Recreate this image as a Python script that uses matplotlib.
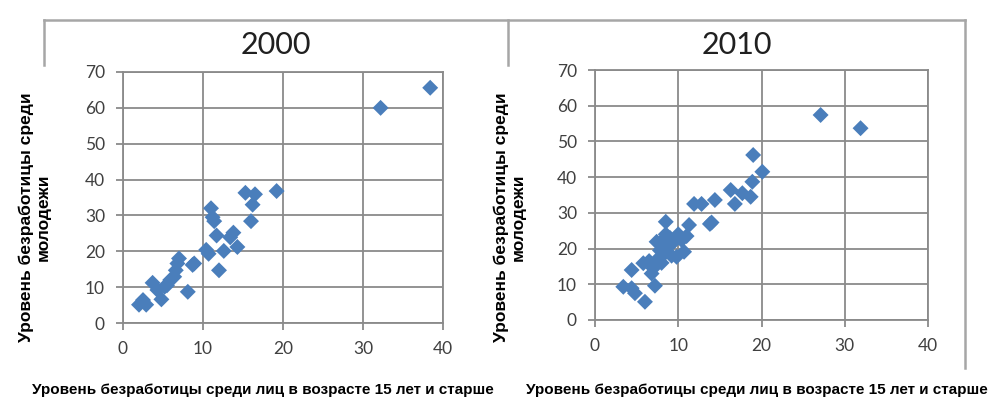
import matplotlib
matplotlib.use("Agg")
import matplotlib.pyplot as plt
from matplotlib.lines import Line2D

# ---- data ----
x2000 = [2.0, 2.5, 2.9, 3.7, 4.3, 4.8, 5.2, 5.5, 5.9, 6.4, 6.6, 6.8, 7.0, 8.1, 8.7, 8.9,
         10.4, 10.7, 11.0, 11.2, 11.4, 11.7, 12.0, 12.6, 13.4, 13.8, 14.3, 15.3, 16.0,
         16.2, 16.5, 19.2, 32.2, 38.4]
y2000 = [5.1, 6.4, 5.1, 11.2, 9.2, 6.6, 10.1, 10.5, 12.0, 12.9, 14.7, 16.6, 18.0, 8.7, 16.2, 16.6,
         20.4, 19.3, 32.0, 29.5, 28.4, 24.4, 14.7, 20.1, 23.9, 25.2, 21.2, 36.3, 28.4,
         33.0, 35.9, 36.8, 60.0, 65.6]

x2010 = [3.4, 4.4, 4.4, 4.8, 5.8, 6.0, 6.5, 6.8, 7.0, 7.2, 7.4, 7.5, 7.8, 8.0, 8.0, 8.3,
         8.5, 8.5, 8.8, 9.0, 9.2, 9.5, 9.8, 10.0, 10.4, 10.7, 11.0, 11.3, 11.9, 12.8,
         13.8, 14.0, 14.4, 16.3, 16.8, 17.7, 18.7, 18.9, 19.0, 20.1, 27.1, 31.9]
y2010 = [9.3, 14.0, 8.9, 7.5, 15.9, 5.1, 16.5, 13.0, 14.5, 9.6, 21.9, 17.0, 19.5, 22.0, 16.0, 18.5,
         27.5, 24.0, 20.5, 23.0, 18.0, 22.0, 17.7, 24.0, 22.4, 19.1, 23.5, 26.6, 32.5, 32.5,
         26.9, 27.3, 33.6, 36.4, 32.5, 35.5, 34.5, 38.7, 46.2, 41.5, 57.4, 53.7]

titles = ["2000", "2010"]
xticks = [0, 10, 20, 30, 40]
yticks = [0, 10, 20, 30, 40, 50, 60, 70]
ylabel = "Уровень безработицы среди\nмолодежи"
xlabel = "Уровень безработицы среди лиц в возрасте 15 лет и старше"

W, H = 998, 403
fig = plt.figure(figsize=(W / 100, H / 100), dpi=100)

def fx(px):
    return px / W

def fy(py):
    return 1 - py / H

tick_font = ["Lato", "DejaVu Sans"]
lab_font = ["Liberation Sans", "DejaVu Sans"]
grid_c = "#8a8a8a"
frame_c = "#a6a6a6"
mark_c = "#4a7ebb"

panels = [
    dict(x=x2000, y=y2000, title=titles[0], ax=(123, 72, 443, 323),
         tx=276, ylx=(22, 47), xlx=263),
    dict(x=x2010, y=y2010, title=titles[1], ax=(595, 70, 928, 320),
         tx=737, ylx=(496, 523), xlx=757),
]

for p in panels:
    x0, y0, x1, y1 = p["ax"]
    ax = fig.add_axes([fx(x0), fy(y1), fx(x1 - x0), (y1 - y0) / H])
    ax.set_xlim(0, 40)
    ax.set_ylim(0, 70)
    ax.set_xticks(xticks)
    ax.set_yticks(yticks)
    ax.grid(True, color=grid_c, lw=1.3)
    ax.set_axisbelow(True)
    for s in ax.spines.values():
        s.set_color(grid_c)
        s.set_linewidth(1.3)
    ax.tick_params(direction="out", length=5, width=1.3, color=grid_c,
                   labelsize=12.5, labelcolor="#404040", pad=8)
    for lab in ax.get_xticklabels() + ax.get_yticklabels():
        lab.set_family(tick_font)
    ax.scatter(p["x"], p["y"], marker="D", s=66, color=mark_c, edgecolors="none",
               zorder=3, clip_on=False)
    # title
    fig.text(fx(p["tx"]), fy(45), p["title"], ha="center", va="center",
             fontsize=22, family=tick_font, color="#202020")
    # y label
    fig.text(fx((p["ylx"][0] + p["ylx"][1]) / 2), fy(217), ylabel, rotation=90,
             ha="center", va="center", fontsize=12.5, fontweight="bold",
             family=lab_font, color="#000000", multialignment="center",
             linespacing=1.15)
    # x label
    fig.text(fx(p["xlx"]), fy(390), xlabel, ha="center", va="center",
             fontsize=11, fontweight="bold", family=lab_font, color="#000000")

# outer frame lines of the chart areas
lines = [
    ((44, 965), (20, 20)),
    ((44, 44), (20, 65)),
    ((508, 508), (20, 65)),
    ((965, 965), (20, 368)),
]
for xs, ys in lines:
    fig.add_artist(Line2D([fx(v) for v in xs], [fy(v) for v in ys],
                          transform=fig.transFigure, color=frame_c, lw=1.8))

fig.savefig("out.png", dpi=100)
